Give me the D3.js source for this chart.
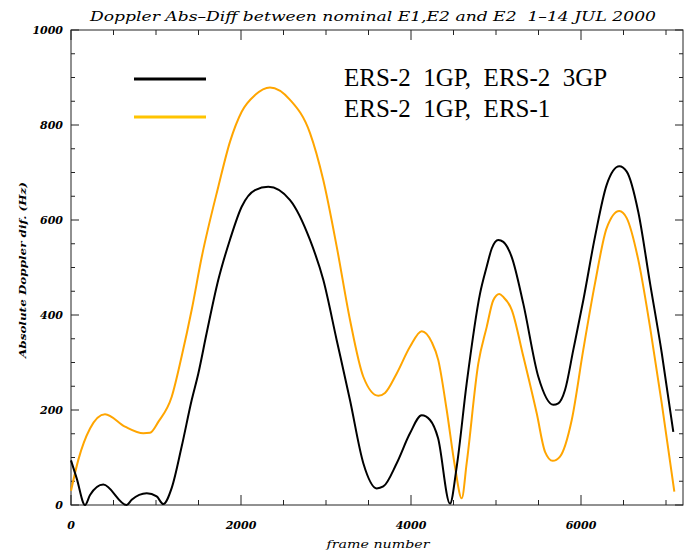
<!DOCTYPE html>
<html>
<head>
<meta charset="utf-8">
<script src="https://cdn.jsdelivr.net/npm/d3@7"></script>
<style>
  body { margin: 0; background: #fff; }
  text { white-space: pre; }
</style>
</head>
<body>
<svg id="chart" width="691" height="554"></svg>
<script>
// frame numbers / abs doppler diff (Hz)
const blackFrames = [0, 67, 165, 224, 380, 655, 714, 891, 1008, 1086, 1185, 1302, 1420, 1498, 1596, 1733, 1871, 2008, 2165, 2321, 2577, 2812, 2968, 3126, 3282, 3439, 3597, 3674, 3832, 3988, 4126, 4224, 4318, 4459, 4538, 4655, 4812, 4891, 4950, 5027, 5086, 5185, 5321, 5498, 5674, 5733, 5812, 5910, 6027, 6165, 6302, 6451, 6538, 6674, 6812, 6950, 7086];
const blackDiff = [94, 56, 0, 21, 43, 0, 11, 25, 18, 2, 36, 123, 221, 277, 362, 474, 559, 628, 663, 670, 642, 558, 474, 347, 221, 88, 35, 39, 88, 151, 189, 179, 141, 3, 81, 256, 445, 502, 540, 558, 554, 522, 424, 270, 211, 214, 242, 327, 431, 565, 674, 713, 702, 617, 467, 320, 154];

const orangeFrames = [0, 86, 224, 400, 635, 851, 929, 1027, 1185, 1302, 1420, 1538, 1733, 1871, 2008, 2165, 2341, 2577, 2812, 2968, 3126, 3282, 3439, 3615, 3694, 3832, 3988, 4126, 4244, 4321, 4420, 4518, 4597, 4655, 4792, 4891, 4968, 5039, 5086, 5185, 5321, 5479, 5577, 5667, 5753, 5891, 6027, 6165, 6302, 6451, 6538, 6674, 6812, 6950, 7098];
const orangeDiff = [30, 95, 161, 191, 165, 151, 152, 175, 228, 313, 411, 522, 670, 765, 828, 863, 879, 853, 783, 684, 544, 390, 270, 230, 236, 277, 333, 366, 343, 305, 200, 80, 14, 88, 298, 375, 431, 444, 438, 411, 313, 193, 112, 93, 102, 179, 327, 467, 583, 619, 604, 516, 375, 214, 28];

const xTicks = [0, 2000, 4000, 6000];
const yTicks = [0, 200, 400, 600, 800, 1000];
const legendLabels = ["ERS-2  1GP,  ERS-2  3GP", "ERS-2  1GP,  ERS-1"];

const titleText = "Doppler Abs\u2013Diff between nominal E1,E2 and E2  1\u201314 JUL 2000";

const m = {left: 71, right: 683, top: 30, bottom: 505};
const hershey = "'DejaVu Serif', serif";

const svg = d3.select("#chart");

const x = d3.scaleLinear().domain([0, 7200]).range([m.left, m.right]);
const y = d3.scaleLinear().domain([0, 1000]).range([m.bottom, m.top]);

// tick marks on all four sides, pointing in
const axisColor = "#222";
const minorX = d3.range(0, 7201, 500);
const minorY = d3.range(0, 1001, 50);

function ticks(g, axis, vals, major, len) {
  g.selectAll(null)
    .data(vals)
    .enter().append("line")
      .attr("stroke", axisColor)
      .attr("stroke-width", 1)
      .each(function(d) {
        const l = major.includes(d) ? len : len / 2;
        const s = d3.select(this);
        if (axis === "b") s.attr("x1", x(d)).attr("x2", x(d)).attr("y1", m.bottom).attr("y2", m.bottom - l);
        if (axis === "t") s.attr("x1", x(d)).attr("x2", x(d)).attr("y1", m.top).attr("y2", m.top + l);
        if (axis === "l") s.attr("y1", y(d)).attr("y2", y(d)).attr("x1", m.left).attr("x2", m.left + l);
        if (axis === "r") s.attr("y1", y(d)).attr("y2", y(d)).attr("x1", m.right).attr("x2", m.right - l);
      });
}

const frame = svg.append("g");
frame.append("rect")
    .attr("x", m.left)
    .attr("y", m.top)
    .attr("width", m.right - m.left)
    .attr("height", m.bottom - m.top)
    .attr("fill", "none")
    .attr("stroke", axisColor)
    .attr("stroke-width", 1);

ticks(frame, "b", minorX, xTicks, 10);
ticks(frame, "t", minorX, xTicks, 10);
ticks(frame, "l", minorY, yTicks, 8);
ticks(frame, "r", minorY, yTicks, 8);

// tick labels
svg.append("g")
  .selectAll("text")
  .data(xTicks)
  .enter().append("text")
    .attr("x", d => x(d))
    .attr("y", 529)
    .attr("text-anchor", "middle")
    .attr("font-family", hershey)
    .attr("font-style", "italic")
    .attr("font-weight", "bold")
    .attr("font-size", 11)
    .text(d => d);

svg.append("g")
  .selectAll("text")
  .data(yTicks)
  .enter().append("text")
    .attr("x", 63)
    .attr("y", d => y(d) + 4)
    .attr("text-anchor", "end")
    .attr("font-family", hershey)
    .attr("font-style", "italic")
    .attr("font-weight", "bold")
    .attr("font-size", 11)
    .text(d => d);

// titles
svg.append("text")
    .attr("x", 373)
    .attr("y", 21)
    .attr("text-anchor", "middle")
    .attr("font-family", hershey)
    .attr("font-style", "italic")
    .attr("font-size", 13)
    .attr("textLength", 566)
    .attr("lengthAdjust", "spacingAndGlyphs")
    .text(titleText);

svg.append("text")
    .attr("x", 378)
    .attr("y", 548)
    .attr("text-anchor", "middle")
    .attr("font-family", hershey)
    .attr("font-style", "italic")
    .attr("font-size", 11)
    .attr("textLength", 103)
    .attr("lengthAdjust", "spacingAndGlyphs")
    .text("frame number");

svg.append("text")
    .attr("transform", "translate(26,270) rotate(-90)")
    .attr("text-anchor", "middle")
    .attr("font-family", hershey)
    .attr("font-style", "italic")
    .attr("font-weight", "bold")
    .attr("font-size", 10)
    .attr("textLength", 176)
    .attr("lengthAdjust", "spacingAndGlyphs")
    .text("Absolute Doppler dif. (Hz)");

// curves
const line = d3.line()
    .x(d => x(d[0]))
    .y(d => y(d[1]))
    .curve(d3.curveMonotoneX);

svg.append("path")
    .datum(d3.zip(orangeFrames, orangeDiff))
    .attr("fill", "none")
    .attr("stroke", "#ffa500")
    .attr("stroke-width", 2)
    .attr("d", line);

svg.append("path")
    .datum(d3.zip(blackFrames, blackDiff))
    .attr("fill", "none")
    .attr("stroke", "#000")
    .attr("stroke-width", 2)
    .attr("d", line);

// legend
const legend = svg.append("g");
const legendColors = ["#000", "#ffc400"];
const legendY = [79, 117];

legend.selectAll("line")
  .data(legendLabels)
  .enter().append("line")
    .attr("x1", 134)
    .attr("x2", 206)
    .attr("y1", (d, i) => legendY[i])
    .attr("y2", (d, i) => legendY[i])
    .attr("stroke", (d, i) => legendColors[i])
    .attr("stroke-width", 3);

legend.selectAll("text")
  .data(legendLabels)
  .enter().append("text")
    .attr("x", 344)
    .attr("y", (d, i) => [86, 117][i])
    .attr("font-family", "'Liberation Serif', serif")
    .attr("font-size", 25)
    .text(d => d);
</script>
</body>
</html>
